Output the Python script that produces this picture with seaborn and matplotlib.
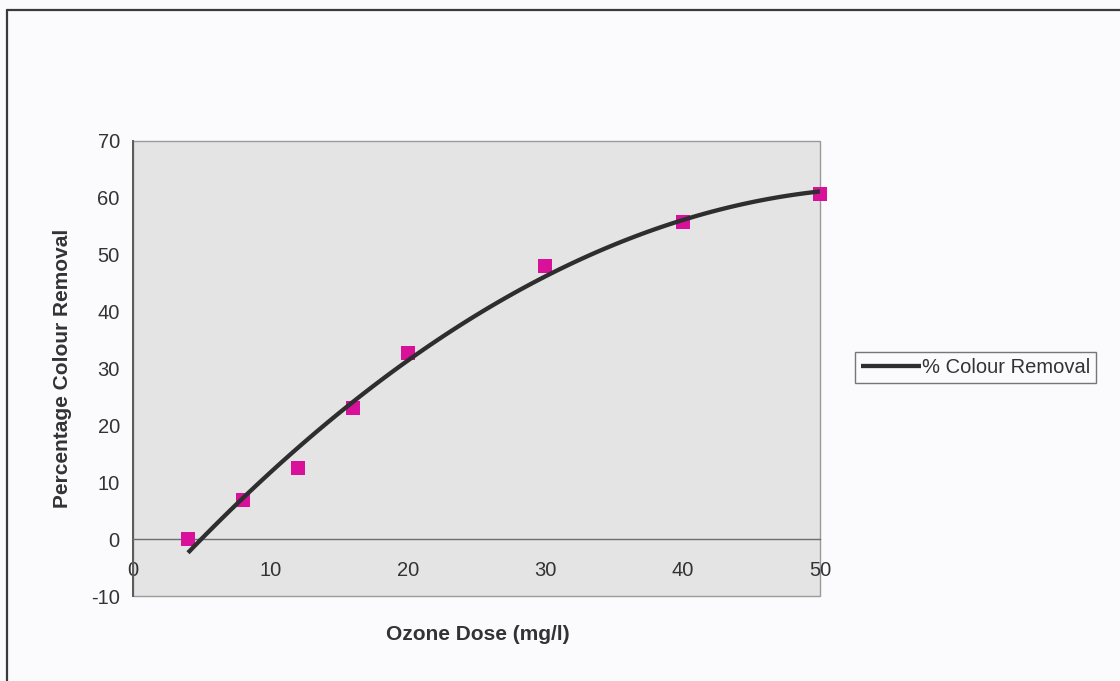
import matplotlib
matplotlib.use("Agg")
import matplotlib.pyplot as plt
import seaborn as sns
import pandas as pd
from matplotlib.lines import Line2D
from matplotlib.patches import Rectangle

# Data
ozone_dose = [4, 8, 12, 16, 20, 30, 40, 50]
colour_removal = [0.0, 6.8, 12.5, 23.1, 32.8, 48.1, 55.8, 60.7]
x_ticks = [0, 10, 20, 30, 40, 50]
y_ticks = [-10, 0, 10, 20, 30, 40, 50, 60, 70]
series_label = "% Colour Removal"
x_label = "Ozone Dose (mg/l)"
y_label = "Percentage Colour Removal"

df = pd.DataFrame({"dose": ozone_dose, "removal": colour_removal})

sns.set_style("white")
plt.rcParams["font.family"] = ["Liberation Sans", "DejaVu Sans"]
plt.rcParams["axes.unicode_minus"] = False

text_col = "#333333"
fig = plt.figure(figsize=(11.2, 6.81), dpi=100, facecolor="#fbfbfd")
ax = fig.add_axes([0.1188, 0.1248, 0.7321 - 0.1188, 0.7930 - 0.1248])
ax.set_facecolor("#e4e4e4")

sns.regplot(data=df, x="dose", y="removal", order=2, ci=None, ax=ax,
            marker="s",
            scatter_kws={"s": 115, "color": "#d8109a", "alpha": 1.0,
                         "linewidths": 0, "zorder": 3, "clip_on": False},
            line_kws={"color": "#2e2e2e", "linewidth": 3.1, "label": series_label,
                      "solid_capstyle": "butt", "zorder": 4})

ax.set_xlim(0, 50)
ax.set_ylim(-10, 70)
ax.set_xticks(x_ticks)
ax.set_yticks(y_ticks)
ax.tick_params(axis="both", labelsize=14.5, colors=text_col, direction="inout")
ax.tick_params(axis="x", length=9, width=1, pad=11, color="#6a6a6a")
ax.tick_params(axis="y", length=9, width=1, pad=5, color="#6a6a6a")
for lab in ax.get_xticklabels() + ax.get_yticklabels():
    lab.set_color(text_col)

# axis lines
for side in ["top", "right"]:
    ax.spines[side].set_visible(False)
ax.spines["bottom"].set_position(("data", 0))
ax.spines["bottom"].set_color("#6e6e6e")
ax.spines["bottom"].set_linewidth(1.0)
ax.spines["left"].set_color("#5a5a5a")
ax.spines["left"].set_linewidth(1.4)
ax.add_patch(Rectangle((0, 0), 1, 1, transform=ax.transAxes, fill=False,
                       edgecolor="#9a9a9a", linewidth=1.0, zorder=0.5, clip_on=False))

ax.set_xlabel("")
ax.set_ylabel("")
fig.text(478 / 1120, 1 - 634 / 681, x_label, ha="center", va="center",
         fontsize=15, fontweight="bold", color=text_col)
fig.text(63 / 1120, 1 - 368 / 681, y_label, ha="center", va="center",
         rotation=90, fontsize=15, fontweight="bold", color=text_col)

handles, labels = ax.get_legend_handles_labels()
keep = [(h, l) for h, l in zip(handles, labels) if l == series_label]
leg = fig.legend([k[0] for k in keep], [k[1] for k in keep],
                 loc="center left", bbox_to_anchor=(0.763, 0.460),
                 fontsize=14.5, frameon=True, fancybox=False, handlelength=3.0,
                 handletextpad=0.05, borderpad=0.3, borderaxespad=0)
leg.get_frame().set_edgecolor("#555555")
leg.get_frame().set_linewidth(1.0)
leg.get_frame().set_facecolor("#fbfbfd")
for t in leg.get_texts():
    t.set_color(text_col)

# outer chart border (top and left visible)
fig.add_artist(Line2D([7 / 1120, 1.0], [1 - 10 / 681, 1 - 10 / 681],
                      transform=fig.transFigure, color="#3a3a3a", linewidth=1.6))
fig.add_artist(Line2D([7 / 1120, 7 / 1120], [0, 1 - 10 / 681],
                      transform=fig.transFigure, color="#3a3a3a", linewidth=1.6))

fig.savefig("out.png", dpi=100, facecolor=fig.get_facecolor())
